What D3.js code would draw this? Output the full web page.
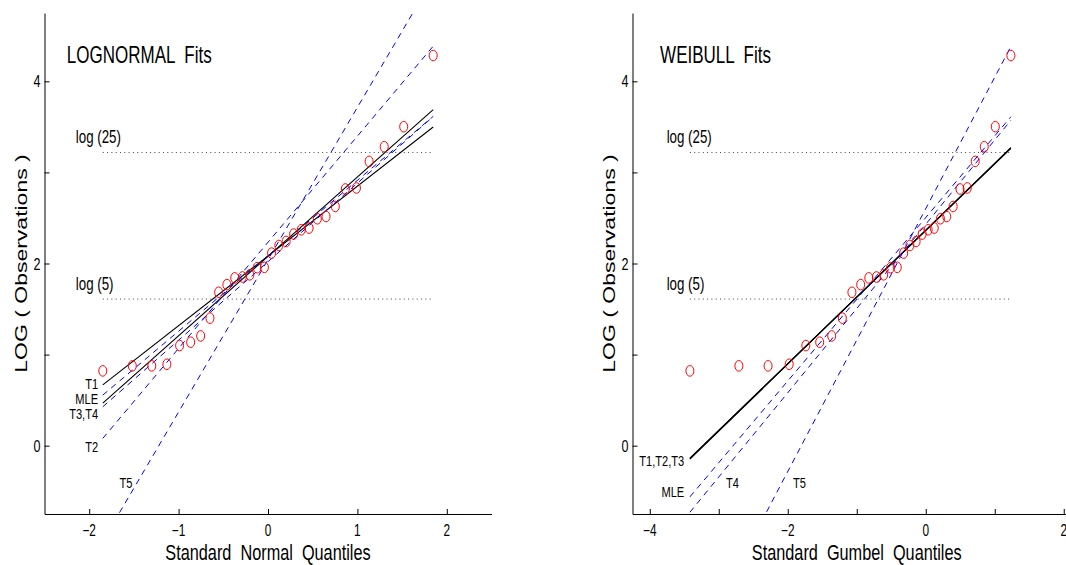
<!DOCTYPE html>
<meta charset="utf-8">
<style>
  body { margin: 0; background: #fff; }
  svg { font-family: "Liberation Sans", Arial, sans-serif; }
  text { white-space: pre; fill: #000; }
</style>
<body>
<script src="https://d3js.org/d3.v7.min.js"></script>
<script>

// plotting positions i/(n+1), n = 30
var normalQ = [-1.848, -1.518, -1.300, -1.131, -0.989, -0.865, -0.753, -0.649, -0.552, -0.460,
               -0.372, -0.287, -0.203, -0.121, -0.040, 0.040, 0.121, 0.203, 0.287, 0.372,
               0.460, 0.552, 0.649, 0.753, 0.865, 0.989, 1.131, 1.300, 1.518, 1.848];
var gumbelQ = [-3.418, -2.708, -2.285, -1.979, -1.738, -1.537, -1.363, -1.209, -1.070, -0.943,
               -0.825, -0.714, -0.610, -0.510, -0.413, -0.320, -0.230, -0.140, -0.052, 0.035,
               0.123, 0.213, 0.304, 0.397, 0.496, 0.601, 0.717, 0.848, 1.008, 1.234];
// sorted log observations
var logObs = [0.821, 0.876, 0.876, 0.894, 1.099, 1.136, 1.205, 1.400, 1.684, 1.768,
              1.842, 1.852, 1.876, 1.954, 1.958, 2.114, 2.198, 2.242, 2.323, 2.370,
              2.389, 2.491, 2.516, 2.626, 2.818, 2.829, 3.121, 3.282, 3.502, 4.283];

// fitted lines: log(obs) = mu + sigma * quantile
var lnFitNames = ["T1", "MLE", "T3", "T4", "T2", "T5"];
var lnFitMu    = [2.083, 2.085, 2.078, 2.020, 2.233, 2.042];
var lnFitSigma = [0.766, 0.828, 0.872, 0.862, 1.165, 1.672];

var wbFitNames = ["T1", "T2", "T3", "MLE", "T4", "T5"];
var wbFitMu    = [2.362, 2.366, 2.364, 2.504, 2.431, 2.602];
var wbFitSigma = [0.731, 0.735, 0.733, 0.897, 0.925, 1.443];

var lnSolid = ["T1", "T3"];
var wbSolid = ["T1", "T2", "T3"];

var refLevels = [Math.log(5), Math.log(25)];
var refLabels = ["log (5)", "log (25)"];

var yTicks = [0, 1, 2, 3, 4];
var lnXTicks = [-2, -1, 0, 1, 2];
var wbXTicks = [-4, -3, -2, -1, 0, 1, 2];

// line-end labels [text, x, y, anchor] in data units
var lnEndLabels = [["T1", -1.9, 0.62, "end"], ["MLE", -1.9, 0.455, "end"], ["T3,T4", -1.9, 0.29, "end"],
                   ["T2", -1.9, -0.066, "end"], ["T5", -1.66, -0.468, "start"]];
var wbEndLabels = [["T1,T2,T3", -3.5, -0.222, "end"], ["MLE", -3.5, -0.563, "end"],
                   ["T4", -2.895, -0.464, "start"], ["T5", -1.924, -0.464, "start"]];

var W = 1066, H = 565, SX = 0.74;

var svg = d3.select("body").append("svg")
    .attr("width", W)
    .attr("height", H);

var y = d3.scaleLinear().domain([-0.75, 4.75]).range([514, 13]);

// horizontally squeezed text, like the original figure
function label(g, x, yy, str, size, anchor, rot) {
    return g.append("text")
        .attr("transform", "translate(" + x + "," + yy + ") scale(" + SX + ",1)" + (rot ? " rotate(-90)" : ""))
        .attr("text-anchor", anchor || "start")
        .style("font-size", size + "px")
        .text(str);
}

function panel(p) {
    var x = d3.scaleLinear().domain(p.xDomain).range(p.xRange);
    var g = svg.append("g");

    g.append("clipPath").attr("id", p.id)
        .append("rect")
        .attr("x", p.xRange[0]).attr("y", 13)
        .attr("width", p.xRange[1] - p.xRange[0]).attr("height", 501);

    var xmin = d3.min(p.xq), xmax = d3.max(p.xq);

    // dotted reference levels
    refLevels.forEach(function (v, i) {
        g.append("line")
            .attr("x1", x(xmin)).attr("x2", x(xmax))
            .attr("y1", y(v)).attr("y2", y(v))
            .attr("stroke", "#444")
            .attr("stroke-dasharray", "1,3.3");
        label(g, x(p.refLabelX), y(v) - 9, refLabels[i], 18);
    });

    var line = d3.line()
        .x(function (d) { return x(d[0]); })
        .y(function (d) { return y(d[1]); });

    var lines = g.append("g").attr("clip-path", "url(#" + p.id + ")");
    p.names.forEach(function (name, i) {
        var pts = [[xmin, p.mu[i] + p.sigma[i] * xmin], [xmax, p.mu[i] + p.sigma[i] * xmax]];
        var solid = p.solid.indexOf(name) >= 0;
        lines.append("path")
            .attr("d", line(pts))
            .attr("fill", "none")
            .attr("stroke", solid ? "#000" : "#0000ff")
            .attr("stroke-width", solid ? 1.1 : 1)
            .attr("stroke-dasharray", solid ? null : "6,5");
    });

    // observations
    lines.selectAll("ellipse")
        .data(p.xq)
        .enter().append("ellipse")
        .attr("cx", function (d) { return x(d); })
        .attr("cy", function (d, i) { return y(logObs[i]); })
        .attr("rx", 4)
        .attr("ry", 5.3)
        .attr("fill", "none")
        .attr("stroke", "#ff0000")
        .attr("stroke-width", 1);

    p.endLabels.forEach(function (l) {
        label(g, x(l[1]), y(l[2]), l[0], 15, l[3]);
    });

    // axes (ticks point inwards)
    g.append("g")
        .attr("transform", "translate(0,514)")
        .call(d3.axisBottom(x).tickValues(p.xTicks).tickSizeInner(-5).tickSizeOuter(0).tickFormat(""));
    g.append("g")
        .attr("transform", "translate(" + p.xRange[0] + ",0)")
        .call(d3.axisLeft(y).tickValues(yTicks).tickSizeInner(-5).tickSizeOuter(0).tickFormat(""));
    g.selectAll(".domain, .tick line").attr("stroke", "#000");

    p.xTicks.forEach(function (t) {
        if (p.xLabelled(t)) label(g, x(t), 536, d3.format("")(t), 16, "middle");
    });
    yTicks.forEach(function (t) {
        if (t % 2 === 0) label(g, p.xRange[0] - 4, y(t) + 6, String(t), 17, "end");
    });

    label(g, x(p.titleX), 63, p.title, 23);
    label(g, (p.xRange[0] + p.xRange[1]) / 2, 560, p.xLabel, 22, "middle");
    label(g, p.xRange[0] - 18, (13 + 514) / 2, "LOG ( Observations )", 23, "middle", true);
}

panel({
    id: "clipL", xDomain: [-2.5, 2.5], xRange: [44.5, 491.5], xq: normalQ,
    names: lnFitNames, mu: lnFitMu, sigma: lnFitSigma, solid: lnSolid,
    endLabels: lnEndLabels, xTicks: lnXTicks, xLabelled: function () { return true; },
    refLabelX: -2.15, titleX: -2.25,
    title: "LOGNORMAL  Fits", xLabel: "Standard  Normal  Quantiles"
});

panel({
    id: "clipR", xDomain: [-4.25, 2.25], xRange: [632.5, 1081], xq: gumbelQ,
    names: wbFitNames, mu: wbFitMu, sigma: wbFitSigma, solid: wbSolid,
    endLabels: wbEndLabels, xTicks: wbXTicks, xLabelled: function (t) { return t % 2 === 0; },
    refLabelX: -3.755, titleX: -3.85,
    title: "WEIBULL  Fits", xLabel: "Standard  Gumbel  Quantiles"
});

</script>
</body>
